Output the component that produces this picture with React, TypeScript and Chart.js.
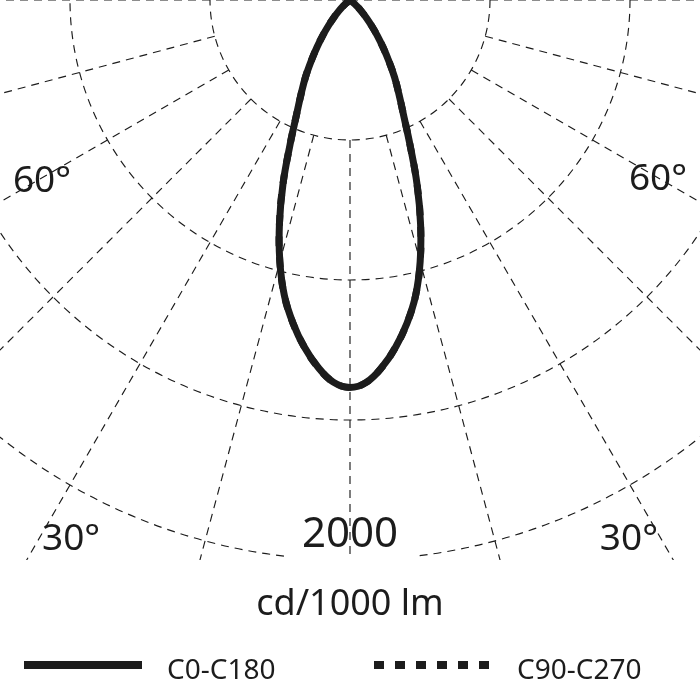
import React, { useEffect, useRef } from "react";
import { Chart, registerables } from "chart.js";

Chart.register(...registerables);

// ---- data ----
const ANGLES = [
  0, 2.5, 5, 7.5, 10, 12.5, 15, 17.5, 20, 22.5, 25, 27.5, 30, 32.5, 35, 37.5, 40, 42.5, 45, 47.5, 50,
  55, 60, 65, 70, 75, 80, 85, 90,
];
const C0_C180 = [
  1384, 1366, 1316, 1250, 1172, 1082, 968, 838, 700, 560, 452, 378, 318, 258, 205, 160, 120, 88, 60, 38, 22,
  6, 0, 0, 0, 0, 0, 0, 0,
];
const C90_C270 = [
  1384, 1366, 1316, 1250, 1172, 1082, 968, 838, 700, 560, 452, 378, 318, 258, 205, 160, 120, 88, 60, 38, 22,
  6, 0, 0, 0, 0, 0, 0, 0,
];
const SERIES_NAMES = ["C0-C180", "C90-C270"];
const RINGS = [500, 1000, 1500, 2000];
const RADIAL_ANGLES = [-90, -75, -60, -45, -30, -15, 0, 15, 30, 45, 60, 75, 90];
const RING_LABEL = "2000";
const ANGLE_LABELS = ["30°", "60°"];
const UNIT_LABEL = "cd/1000 lm";

const FONT = '"Noto Sans", "DejaVu Sans", sans-serif';
const INK = "#1c1c1c";

function toPoints(values: number[]) {
  const pts: { x: number; y: number }[] = [];
  for (let i = values.length - 1; i >= 0; i--) {
    const t = (ANGLES[i] * Math.PI) / 180;
    pts.push({ x: -values[i] * Math.sin(t), y: values[i] * Math.cos(t) });
  }
  for (let i = 1; i < values.length; i++) {
    const t = (ANGLES[i] * Math.PI) / 180;
    pts.push({ x: values[i] * Math.sin(t), y: values[i] * Math.cos(t) });
  }
  return pts;
}

const gridPlugin = {
  id: "polarGrid",
  beforeDatasetsDraw(chart: any) {
    const { ctx } = chart;
    const x = chart.scales.x;
    const y = chart.scales.y;
    const cx = x.getPixelForValue(0);
    const cy = y.getPixelForValue(0);
    const rMax = RINGS[RINGS.length - 1];
    const rad = (v: number) => x.getPixelForValue(v) - cx;
    ctx.save();
    ctx.beginPath();
    ctx.rect(0, 0, chart.width, y.getPixelForValue(rMax));
    ctx.clip();
    ctx.strokeStyle = INK;
    ctx.lineWidth = 1.15;
    ctx.setLineDash([8, 6]);
    ctx.font = `42px ${FONT}`;
    const half = ctx.measureText(RING_LABEL).width / 2 + 18;
    RINGS.forEach((r) => {
      const R = rad(r);
      ctx.beginPath();
      if (r === rMax) {
        const g = Math.asin(half / R);
        ctx.arc(cx, cy, R, Math.PI / 2 + g, Math.PI / 2 - g + 2 * Math.PI);
      } else {
        ctx.arc(cx, cy, R, 0, 2 * Math.PI);
      }
      ctx.stroke();
    });
    RADIAL_ANGLES.forEach((a) => {
      const t = (a * Math.PI) / 180;
      const r0 = Math.abs(a) === 90 ? 0 : RINGS[0];
      const r1 = a === 0 ? rMax : 8000;
      ctx.beginPath();
      ctx.moveTo(x.getPixelForValue(r0 * Math.sin(t)), y.getPixelForValue(r0 * Math.cos(t)));
      ctx.lineTo(x.getPixelForValue(r1 * Math.sin(t)), y.getPixelForValue(r1 * Math.cos(t)));
      ctx.stroke();
    });
    ctx.restore();

    // labels
    ctx.save();
    ctx.fillStyle = INK;
    ctx.textBaseline = "alphabetic";
    ctx.textAlign = "center";
    ctx.font = `42px ${FONT}`;
    ctx.fillText(RING_LABEL, cx, y.getPixelForValue(rMax) - 13);
    ctx.font = `37px ${FONT}`;
    // 30° labels
    ctx.fillText(ANGLE_LABELS[0], x.getPixelForValue(-996), y.getPixelForValue(1964));
    ctx.fillText(ANGLE_LABELS[0], x.getPixelForValue(996), y.getPixelForValue(1964));
    // 60° labels
    ctx.fillText(ANGLE_LABELS[1], x.getPixelForValue(-1100), y.getPixelForValue(686));
    ctx.fillText(ANGLE_LABELS[1], x.getPixelForValue(1100), y.getPixelForValue(678));
    ctx.restore();
  },
  afterDraw(chart: any) {
    const { ctx } = chart;
    const ds = chart.data.datasets;
    ctx.save();
    ctx.fillStyle = INK;
    ctx.textAlign = "center";
    ctx.textBaseline = "alphabetic";
    ctx.font = `36px ${FONT}`;
    ctx.fillText(UNIT_LABEL, 350, 615);

    const items = [
      { x0: 24, x1: 142, tx: 167 },
      { x0: 374, x1: 489, tx: 517 },
    ];
    items.forEach((it, i) => {
      ctx.strokeStyle = ds[i].borderColor;
      ctx.lineWidth = 8;
      ctx.lineCap = "butt";
      ctx.setLineDash(ds[i].borderDash || []);
      ctx.beginPath();
      ctx.moveTo(it.x0, 665);
      ctx.lineTo(it.x1, 665);
      ctx.stroke();
      ctx.setLineDash([]);
      ctx.textAlign = "left";
      ctx.font = `28px ${FONT}`;
      ctx.fillText(ds[i].label, it.tx, 679);
    });
    ctx.restore();
  },
};

export default function App() {
  const ref = useRef<HTMLCanvasElement>(null);
  useEffect(() => {
    document.body.style.margin = "0";
    const chart = new Chart(ref.current as HTMLCanvasElement, {
      type: "scatter",
      data: {
        datasets: [
          {
            label: SERIES_NAMES[0],
            data: toPoints(C0_C180),
            showLine: true,
            borderColor: INK,
            borderWidth: 7,
            pointRadius: 0,
            tension: 0.4,
            borderJoinStyle: "round",
            borderCapStyle: "round",
            order: 0,
          },
          {
            label: SERIES_NAMES[1],
            data: toPoints(C90_C270),
            showLine: true,
            borderColor: INK,
            borderWidth: 7,
            borderDash: [10, 11],
            pointRadius: 0,
            tension: 0.4,
            order: 1,
          },
        ],
      } as any,
      options: {
        animation: false,
        responsive: false,
        maintainAspectRatio: false,
        events: [],
        layout: { padding: 0 },
        scales: {
          x: { type: "linear", min: -1250, max: 1250, display: false },
          y: { type: "linear", min: 0, max: 2500, reverse: true, display: false },
        },
        plugins: { legend: { display: false }, tooltip: { enabled: false } },
      } as any,
      plugins: [gridPlugin],
    });
    return () => chart.destroy();
  }, []);
  return (
    <div style={{ position: "absolute", left: 0, top: 0, width: 700, height: 700, background: "#fff" }}>
      <canvas ref={ref} width={700} height={700} style={{ display: "block" }} />
    </div>
  );
}
